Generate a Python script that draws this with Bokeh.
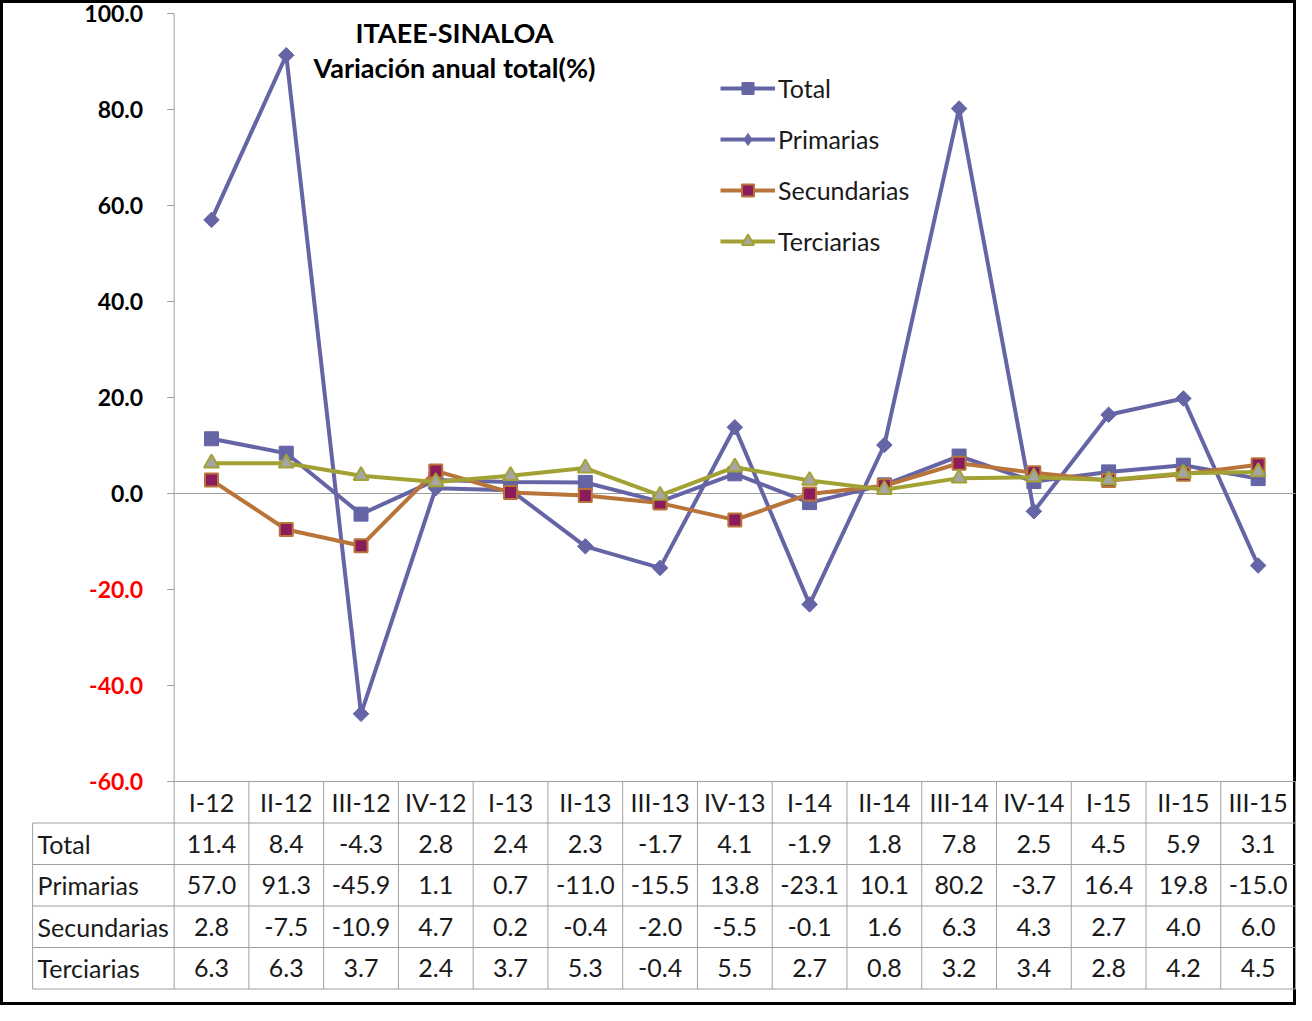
import math
from bokeh.plotting import figure
from bokeh.models import Range1d, Label, Legend, LegendItem, ColumnDataSource
from bokeh.core.properties import value
from bokeh.embed import file_html
from bokeh.resources import INLINE

# ---------------- data ----------------
categories = ["I-12", "II-12", "III-12", "IV-12", "I-13", "II-13", "III-13", "IV-13",
              "I-14", "II-14", "III-14", "IV-14", "I-15", "II-15", "III-15"]
total = [11.4, 8.4, -4.3, 2.8, 2.4, 2.3, -1.7, 4.1, -1.9, 1.8, 7.8, 2.5, 4.5, 5.9, 3.1]
primarias = [57.0, 91.3, -45.9, 1.1, 0.7, -11.0, -15.5, 13.8, -23.1, 10.1, 80.2, -3.7, 16.4, 19.8, -15.0]
secundarias = [2.8, -7.5, -10.9, 4.7, 0.2, -0.4, -2.0, -5.5, -0.1, 1.6, 6.3, 4.3, 2.7, 4.0, 6.0]
terciarias = [6.3, 6.3, 3.7, 2.4, 3.7, 5.3, -0.4, 5.5, 2.7, 0.8, 3.2, 3.4, 2.8, 4.2, 4.5]
series_names = ["Total", "Primarias", "Secundarias", "Terciarias"]
y_ticks = [100, 80, 60, 40, 20, 0, -20, -40, -60]
title_lines = ["ITAEE-SINALOA", "Variación anual total(%)"]

# ---------------- geometry ----------------
W, H = 1296, 1005
X0_PX = 211.0      # first category centre, from canvas left
DX_PX = 74.76      # px per category
Y0_PX = 493.0      # y = 0, from canvas top
DY_PX = 4.8        # px per unit
FONT = "Lato"

x_start = -X0_PX / DX_PX
x_end = (W - X0_PX) / DX_PX
y_end = Y0_PX / DY_PX
y_start = -(H - Y0_PX) / DY_PX

BLUE = "#6565A6"
BROWN = "#B9743A"
PLUM = "#8A1C5B"
OLIVE = "#A2A234"
TRI_GRAY = "#A5A5A5"
GRID = "#A0A0A0"
TXT = "#1a1a1a"

p = figure(width=W, height=H, x_range=Range1d(x_start, x_end), y_range=Range1d(y_start, y_end),
           x_axis_location=None, y_axis_location=None, toolbar_location=None,
           output_backend="svg", min_border=0,
           outline_line_color="black", outline_line_width=5,
           background_fill_color="white", border_fill_color="white")
p.grid.grid_line_color = None

n = len(categories)
xs = list(range(n))
y_min, y_max = min(y_ticks), max(y_ticks)
left_edge = -0.5
right_edge = n - 0.5
ROW_H = 41.5 / DY_PX
LEFT_COL = left_edge - 141.5 / DX_PX
n_rows = 1 + len(series_names)
table_bottom = y_min - n_rows * ROW_H

# ---------------- axis / frame lines ----------------
tick_len = 7.0 / DX_PX
p.segment(x0=[left_edge], y0=[y_max], x1=[left_edge], y1=[table_bottom], line_color=GRID, line_width=1)
p.segment(x0=[left_edge - tick_len] * len(y_ticks), y0=y_ticks,
          x1=[left_edge] * len(y_ticks), y1=y_ticks, line_color=GRID, line_width=1)
p.segment(x0=[left_edge, left_edge], y0=[0, y_min], x1=[right_edge, right_edge], y1=[0, y_min],
          line_color=GRID, line_width=1)

# table grid
row_lines = [y_min - k * ROW_H for k in range(1, n_rows + 1)]
p.segment(x0=[LEFT_COL] * len(row_lines), y0=row_lines,
          x1=[right_edge] * len(row_lines), y1=row_lines, line_color=GRID, line_width=1)
col_lines = [left_edge + k for k in range(1, n + 1)]
p.segment(x0=col_lines, y0=[y_min] * len(col_lines), x1=col_lines, y1=[table_bottom] * len(col_lines),
          line_color=GRID, line_width=1)
p.segment(x0=[LEFT_COL], y0=[row_lines[0]], x1=[LEFT_COL], y1=[table_bottom], line_color=GRID, line_width=1)

# y tick labels
tick_src = ColumnDataSource(dict(
    x=[left_edge] * len(y_ticks), y=y_ticks,
    t=[f"{v:.1f}" for v in y_ticks],
    c=["#FF0000" if v < 0 else "#000000" for v in y_ticks]))
p.text(x="x", y="y", text="t", source=tick_src, text_color="c", x_offset=-31,
       text_align="right", text_baseline="middle", text_font=value(FONT),
       text_font_size=value("23px"), text_font_style="bold")

# ---------------- series ----------------
line_w = 4
r_tl = p.line(xs, total, line_color=BLUE, line_width=line_w)
r_tm = p.scatter(xs, total, marker="square", size=14, fill_color=BLUE, line_color=BLUE, line_width=1)
r_pl = p.line(xs, primarias, line_color=BLUE, line_width=line_w)
r_pm = p.scatter(xs, primarias, marker="square", angle=math.pi / 4, size=11,
                 fill_color=BLUE, line_color=BLUE, line_width=1)
r_sl = p.line(xs, secundarias, line_color=BROWN, line_width=line_w)
r_sm = p.scatter(xs, secundarias, marker="square", size=13, fill_color=PLUM, line_color=BROWN, line_width=2)
r_el = p.line(xs, terciarias, line_color=OLIVE, line_width=line_w)
r_em = p.scatter(xs, terciarias, marker="triangle", size=15, fill_color=TRI_GRAY, line_color=OLIVE, line_width=2)
# legend-only diamond glyph (hidden on the plot)
r_pleg = p.scatter(xs, primarias, marker="diamond", size=16, fill_color=BLUE, line_color=BLUE,
                   line_width=1, visible=False)

legend = Legend(items=[
    LegendItem(label=series_names[0], renderers=[r_tl, r_tm]),
    LegendItem(label=series_names[1], renderers=[r_pl, r_pleg]),
    LegendItem(label=series_names[2], renderers=[r_sl, r_sm]),
    LegendItem(label=series_names[3], renderers=[r_el, r_em]),
], location=(720, 749), glyph_width=55, glyph_height=30, label_height=30, spacing=21,
    padding=0, margin=0, label_standoff=3, border_line_color=None, background_fill_alpha=0,
    label_text_font=FONT, label_text_font_size="25px", label_text_color=TXT)
p.add_layout(legend)

# ---------------- title ----------------
for i, t in enumerate(title_lines):
    p.add_layout(Label(x=454, y=H - 32 - 35 * i, x_units="screen", y_units="screen", text=t,
                       text_align="center", text_baseline="middle", text_font=FONT,
                       text_font_size="27px", text_font_style="bold", text_color="#000000"))

# ---------------- table text ----------------
def row_center(r):
    return y_min - (r + 0.5) * ROW_H

hdr_src = ColumnDataSource(dict(x=xs, y=[row_center(0)] * n, t=categories))
p.text(x="x", y="y", text="t", source=hdr_src, text_align="center", text_baseline="middle",
       text_font=value(FONT), text_font_size=value("25px"), text_color=TXT)

cell_x, cell_y, cell_t = [], [], []
for r, vals in enumerate([total, primarias, secundarias, terciarias], start=1):
    for i, v in enumerate(vals):
        cell_x.append(i)
        cell_y.append(row_center(r))
        cell_t.append(f"{v:.1f}")
cell_src = ColumnDataSource(dict(x=cell_x, y=cell_y, t=cell_t))
p.text(x="x", y="y", text="t", source=cell_src, text_align="center", text_baseline="middle",
       text_font=value(FONT), text_font_size=value("25px"), text_color=TXT)

lab_src = ColumnDataSource(dict(x=[LEFT_COL] * len(series_names),
                                y=[row_center(r) for r in range(1, n_rows)], t=series_names))
p.text(x="x", y="y", text="t", source=lab_src, x_offset=5, text_align="left", text_baseline="middle",
       text_font=value(FONT), text_font_size=value("25px"), text_color=TXT)

open("out.html", "w").write(file_html(p, INLINE))
